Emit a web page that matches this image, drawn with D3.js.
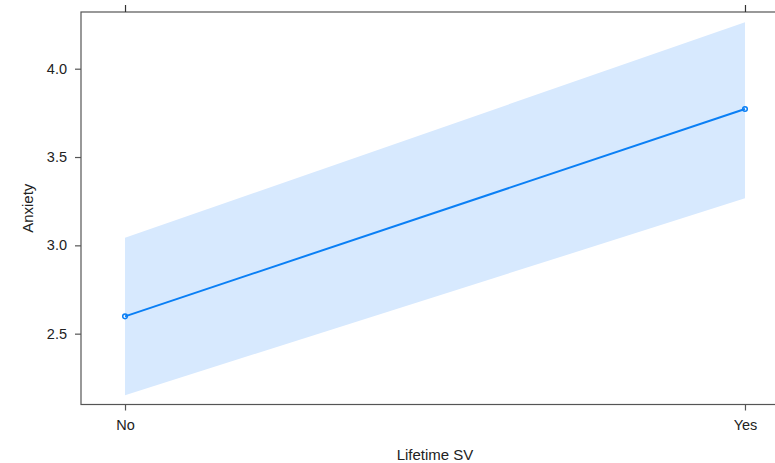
<!DOCTYPE html>
<html><head><meta charset="utf-8">
<script src="https://cdn.jsdelivr.net/npm/d3@7"></script>
<style>body{margin:0;background:#fff}svg{display:block}</style>
</head><body>
<svg id="c" width="775" height="463"></svg>
<script>
const categories = ["No", "Yes"];
const fitValues = [2.598, 3.772];
const lowerValues = [2.152, 3.266];
const upperValues = [3.043, 4.263];
const yTicks = [2.5, 3.0, 3.5, 4.0];
const xTitle = "Lifetime SV";
const yTitle = "Anxiety";

const svg = d3.select("#c");
const L = 81, T = 12, B = 404.5, R = 789;
const x = d3.scaleLinear().domain([-0.071, 1.071]).range([L, R]);
const y = d3.scaleLinear().domain([2.099, 4.321]).range([B, T]);

const data = categories.map((c, i) => ({i, c, fit: fitValues[i], lo: lowerValues[i], hi: upperValues[i]}));

svg.append("path").datum(data)
  .attr("d", d3.area().x(d => x(d.i)).y0(d => y(d.lo)).y1(d => y(d.hi)))
  .attr("fill", "#d7e9fe");

svg.append("path").datum(data)
  .attr("d", d3.line().x(d => x(d.i)).y(d => y(d.fit)))
  .attr("fill", "none").attr("stroke", "#0a7ff5").attr("stroke-width", 2);

svg.selectAll("circle.pt").data(data).enter().append("circle")
  .attr("cx", d => x(d.i)).attr("cy", d => y(d.fit)).attr("r", 2.3)
  .attr("fill", "none").attr("stroke", "#0a7ff5").attr("stroke-width", 1.5);

// frame
svg.append("rect").attr("x", L).attr("y", T).attr("width", R - L).attr("height", B - T)
  .attr("fill", "none").attr("stroke", "#555").attr("stroke-width", 1.2);

const font = "'Liberation Sans', Arial, sans-serif";

// y axis
const yAx = svg.append("g").attr("transform", `translate(${L},0)`)
  .call(d3.axisLeft(y).tickValues(yTicks).tickFormat(d3.format(".1f")).tickSize(6).tickPadding(8));
yAx.select(".domain").remove();
yAx.selectAll("line").attr("stroke", "#555").attr("stroke-width", 1.2);
yAx.selectAll("text").attr("font-family", font).attr("font-size", 14.5).attr("fill", "#222");

// x axis bottom
const xAx = svg.append("g").attr("transform", `translate(0,${B})`)
  .call(d3.axisBottom(x).tickValues(categories.map((c, i) => i)).tickFormat(i => categories[i]).tickSize(6).tickPadding(9));
xAx.select(".domain").remove();
xAx.selectAll("line").attr("stroke", "#555").attr("stroke-width", 1.2);
xAx.selectAll("text").attr("font-family", font).attr("font-size", 14.5).attr("fill", "#222");

// x axis top ticks
const xTop = svg.append("g").attr("transform", `translate(0,${T})`)
  .call(d3.axisTop(x).tickValues(categories.map((c, i) => i)).tickFormat("").tickSize(7));
xTop.select(".domain").remove();
xTop.selectAll("line").attr("stroke", "#333").attr("stroke-width", 1.2);

svg.append("text").attr("x", (L + R) / 2).attr("y", 460).attr("text-anchor", "middle")
  .attr("font-family", font).attr("font-size", 15).attr("fill", "#222").text(xTitle);
svg.append("text").attr("transform", `translate(33,${(T + B) / 2}) rotate(-90)`).attr("text-anchor", "middle")
  .attr("font-family", font).attr("font-size", 15).attr("fill", "#222").text(yTitle);
</script>
</body></html>
